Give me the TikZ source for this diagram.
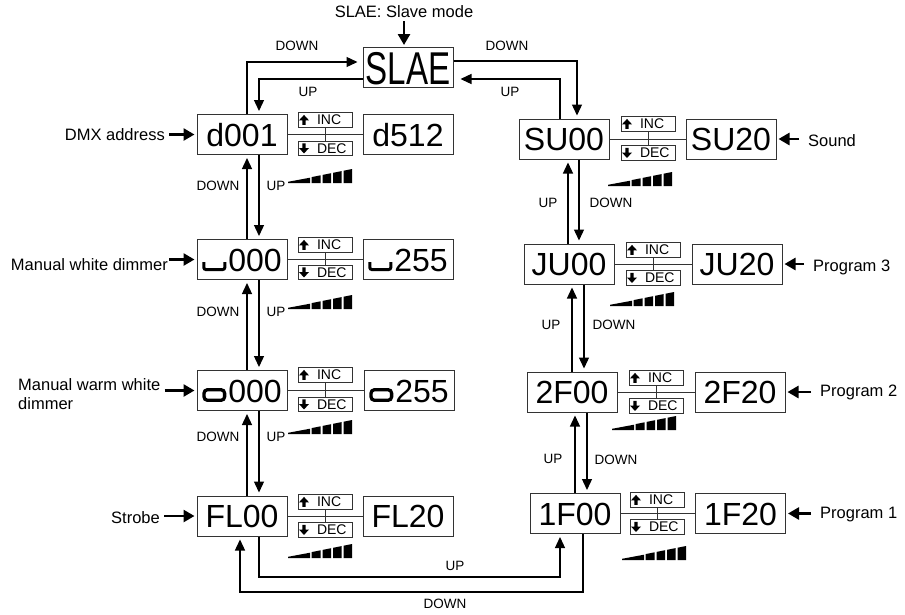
\documentclass[tikz,border=0pt]{standalone}
\usepackage{fontspec}
\setmainfont{Liberation Sans}
\usetikzlibrary{arrows.meta}
\newcommand\upar{\tikz[x=1pt,y=1pt,baseline=0pt]\fill (3.3,0) rectangle (6.7,4.6) (0,4.6) -- (10,4.6) -- (5,10) -- cycle;}
\newcommand\downar{\tikz[x=1pt,y=1pt,baseline=0pt]\fill (3.3,10) rectangle (6.7,5.4) (0,5.4) -- (10,5.4) -- (5,0) -- cycle;}
\begin{document}
\begin{tikzpicture}[x=1pt,y=-1pt,
  big/.style={draw=black!80, line width=1pt, minimum width=90pt, minimum height=40pt, inner sep=0pt,
    text height=23pt, text depth=0pt, font=\fontsize{32}{32}\selectfont},
  incbox/.style={draw=black!80, line width=0.9pt, text width=52pt, inner xsep=1pt, inner ysep=0pt,
    minimum height=14.5pt, align=left, font=\fontsize{14}{14}\selectfont},
  lbl/.style={font=\fontsize{13.5}{13.5}\selectfont, inner sep=0pt},
  side/.style={font=\fontsize{16.5}{19}\selectfont, inner sep=0pt},
  arr/.style={line width=1.3pt, -{Triangle[length=11pt,width=10pt]}, shorten >=3pt},
  sarr/.style={line width=2.6pt, -{Triangle[length=11pt,width=12pt]}, shorten >=2pt, shorten <=4pt},
  conn/.style={line width=0.9pt, draw=black!80},
  ramp/.pic={
    \fill (0,0) -- (22,0) -- (22,-5.3) -- (0,-1.2) -- cycle;
    \foreach \a/\b in {23.5/32.5,34.5/43,45/53.5,55.5/64}
      \fill (\a,0) -- (\b,0) -- (\b,{-(1.2+12.8*\b/64)}) -- (\a,{-(1.2+12.8*\a/64)}) -- cycle;
  },
  segu/.pic={\draw[line width=3pt, rounded corners=2pt] (1.5,-9) -- (1.5,-1.5) -- (22.5,-1.5) -- (22.5,-9);},
  sego/.pic={\draw[line width=3.3pt, rounded corners=3.5pt] (1.7,-1.7) rectangle (22.3,-12.3);}
]
\path[use as bounding box] (0,0) rectangle (905,614);

% ---------- SLAE ----------
\node[big, text height=33pt] (slae) at (408,67.5) {\scalebox{0.72}[1]{\fontsize{46}{46}\selectfont SLAE}};
\node[side] (slbl) at (404,12) {SLAE: Slave mode};
\draw[sarr, shorten <=3pt] (slbl.south) -- (slbl.south |- slae.north);

% ---------- left column ----------
\node[big] (dA) at (242,134.5) {d001};
\node[big] (dB) at (408,134.5) {d512};
\node[incbox] (i1) at (325,120) {\upar\hspace{8pt}INC};
\node[incbox] (e1) at (325,148.5) {\downar\hspace{8pt}DEC};

\node[big] (wA) at (242,259.5) {\hspace{26pt}000};
\node[big] (wB) at (408,259.5) {\hspace{26pt}255};
\pic at ([xshift=-39.7pt,yshift=-11.5pt]wA.center) {segu};
\pic at ([xshift=-39.7pt,yshift=-11.5pt]wB.center) {segu};
\node[incbox] (i2) at (325,245) {\upar\hspace{8pt}INC};
\node[incbox] (e2) at (325,272.5) {\downar\hspace{8pt}DEC};

\node[big] (oA) at (242,390.5) {\hspace{26pt}000};
\node[big] (oB) at (409,390.5) {\hspace{26pt}255};
\pic at ([xshift=-39.7pt,yshift=-11.5pt]oA.center) {sego};
\pic at ([xshift=-39.7pt,yshift=-11.5pt]oB.center) {sego};
\node[incbox] (i3) at (325,375) {\upar\hspace{8pt}INC};
\node[incbox] (e3) at (325,404.5) {\downar\hspace{8pt}DEC};

\node[big] (fA) at (242,516) {FL00};
\node[big] (fB) at (408,516) {FL20};
\node[incbox] (i4) at (325,502) {\upar\hspace{8pt}INC};
\node[incbox] (e4) at (325,530) {\downar\hspace{8pt}DEC};

% ---------- right column ----------
\node[big] (sA) at (564,139) {SU00};
\node[big] (sB) at (731,139) {SU20};
\node[incbox] (i5) at (648,124) {\upar\hspace{8pt}INC};
\node[incbox] (e5) at (648,153) {\downar\hspace{8pt}DEC};

\node[big] (jA) at (569,264) {JU00};
\node[big] (jB) at (737,264) {JU20};
\node[incbox] (i6) at (653,250) {\upar\hspace{8pt}INC};
\node[incbox] (e6) at (653,278) {\downar\hspace{8pt}DEC};

\node[big] (pA) at (572,392) {2F00};
\node[big] (pB) at (740,392) {2F20};
\node[incbox] (i7) at (656,378) {\upar\hspace{8pt}INC};
\node[incbox] (e7) at (656,406) {\downar\hspace{8pt}DEC};

\node[big] (qA) at (575,513.5) {1F00};
\node[big] (qB) at (740.5,513.5) {1F20};
\node[incbox] (i8) at (657,500) {\upar\hspace{8pt}INC};
\node[incbox] (e8) at (657,527) {\downar\hspace{8pt}DEC};

% ---------- INC/DEC connectors ----------
\foreach \a/\b/\i/\e in {dA/dB/i1/e1, wA/wB/i2/e2, oA/oB/i3/e3, fA/fB/i4/e4,
                         sA/sB/i5/e5, jA/jB/i6/e6, pA/pB/i7/e7, qA/qB/i8/e8}{
  \draw[conn] (\a.east) -- (\b.west);
  \draw[conn] (\i.south) -- (\e.north);
}

% ---------- side labels ----------
\node[side, anchor=east] (ldmx) at (165,134.5) {DMX address};
\draw[sarr] (ldmx.east) -- (dA.west);
\node[side, anchor=east] (lmw) at (168,265) {Manual white dimmer};
\draw[sarr, shorten <=1pt] (lmw.east |- wA.west) -- (wA.west);
\node[side, anchor=north west, align=left, inner sep=0pt] (lmww) at (18,378) {Manual warm white\\dimmer};
\draw[sarr] (lmww.east |- oA.west) -- (oA.west);
\node[side, anchor=east] (lstr) at (160,518) {Strobe};
\draw[sarr] (lstr.east |- fA.west) -- (fA.west);

\node[side, anchor=west] (rsnd) at (808,141) {Sound};
\draw[sarr, shorten <=9pt] (rsnd.west |- sB.east) -- (sB.east);
\node[side, anchor=west] (rp3) at (813,267) {Program 3};
\draw[sarr, shorten <=9pt] (rp3.west |- jB.east) -- (jB.east);
\node[side, anchor=west] (rp2) at (820,392) {Program 2};
\draw[sarr, shorten <=9pt] (rp2.west |- pB.east) -- (pB.east);
\node[side, anchor=west] (rp1) at (820,515) {Program 1};
\draw[sarr, shorten <=9pt] (rp1.west |- qB.east) -- (qB.east);

% ---------- column coordinates ----------
\coordinate (Lu) at (247,0);
\coordinate (Ld) at (259,0);
\coordinate (Lb) at (240,0);
\coordinate (Rtu) at (560,0);
\coordinate (Rtd) at (577,0);
\coordinate (R1u) at (568,0);
\coordinate (R1d) at (579,0);
\coordinate (R2u) at (572,0);
\coordinate (R2d) at (584,0);
\coordinate (R3u) at (575,0);
\coordinate (R3d) at (587,0);
\coordinate (Rbu) at (560,0);
\coordinate (Rbd) at (583,0);
\coordinate (yUP) at (0,577);
\coordinate (yDN) at (0,592);

% ---------- top loops ----------
\draw[arr, shorten >=5pt] (dA.north -| Lu) |- ([yshift=5.5pt]slae.west);
\draw[arr] ([yshift=-11.5pt]slae.west) -| (dA.north -| Ld);
\draw[arr] ([yshift=6.5pt]slae.east) -| (sA.north -| Rtd);
\draw[arr, shorten >=7pt] (sA.north -| Rtu) |- ([yshift=-11.5pt]slae.east);
\node[lbl] (t1) at (297,46) {DOWN};
\node[lbl] (t2) at (308,92) {UP};
\node[lbl] (t3) at (507,46) {DOWN};
\node[lbl] (t4) at (510,92) {UP};

% ---------- left verticals ----------
\draw[arr] (wA.north -| Lu) -- (dA.south -| Lu);
\draw[arr] (dA.south -| Ld) -- (wA.north -| Ld);
\draw[arr] (oA.north -| Lu) -- (wA.south -| Lu);
\draw[arr] (wA.south -| Ld) -- (oA.north -| Ld);
\draw[arr] (fA.north -| Lu) -- (oA.south -| Lu);
\draw[arr] (oA.south -| Ld) -- (fA.north -| Ld);
\node[lbl] (l1) at (218,186) {DOWN};
\node[lbl] (l2) at (276,186) {UP};
\node[lbl] (l3) at (218,312) {DOWN};
\node[lbl] (l4) at (276,312) {UP};
\node[lbl] (l5) at (218,437) {DOWN};
\node[lbl] (l6) at (276,437) {UP};
\pic at (288,183) {ramp};
\pic at (288,309) {ramp};
\pic at (288,434) {ramp};
\pic at (288,558) {ramp};

% ---------- right verticals ----------
\draw[arr] (jA.north -| R1u) -- (sA.south -| R1u);
\draw[arr] (sA.south -| R1d) -- (jA.north -| R1d);
\draw[arr] (pA.north -| R2u) -- (jA.south -| R2u);
\draw[arr] (jA.south -| R2d) -- (pA.north -| R2d);
\draw[arr] (qA.north -| R3u) -- (pA.south -| R3u);
\draw[arr] (pA.south -| R3d) -- (qA.north -| R3d);
\node[lbl] (r1) at (548,203) {UP};
\node[lbl] (r2) at (611,203) {DOWN};
\node[lbl] (r3) at (551,325) {UP};
\node[lbl] (r4) at (614,325) {DOWN};
\node[lbl] (r5) at (553,459) {UP};
\node[lbl] (r6) at (616,460) {DOWN};
\pic at (608,186) {ramp};
\pic at (610,306) {ramp};
\pic at (612,430) {ramp};
\pic at (622,560) {ramp};

% ---------- bottom loops ----------
\draw[arr] (fA.south -| Ld) -- (Ld |- yUP) -- (Rbu |- yUP) -- (qA.south -| Rbu);
\draw[arr] (qA.south -| Rbd) -- (Rbd |- yDN) -- (Lb |- yDN) -- (fA.south -| Lb);
\node[lbl] (bUP) at (455,566) {UP};
\node[lbl] (bDN) at (445,604) {DOWN};
\end{tikzpicture}
\end{document}
